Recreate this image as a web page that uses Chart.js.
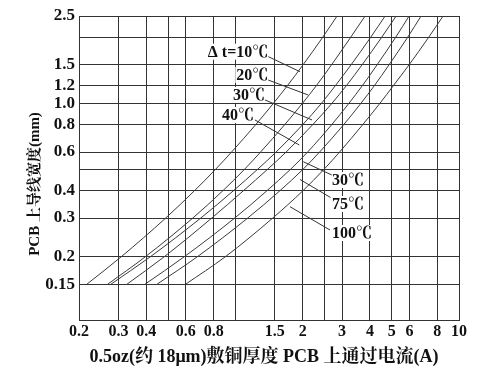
<!DOCTYPE html>
<html><head><meta charset="utf-8">
<script src="https://cdn.jsdelivr.net/npm/chart.js@4/dist/chart.umd.min.js"></script>
<style>html,body{margin:0;padding:0;background:#fff;}</style>
</head><body>
<canvas id="c" width="498" height="385" style="display:block;width:498px;height:385px"></canvas>
<script>
// ---- data (trace width in mm on y, current in A on x) ----
const widths = [0.15, 0.2, 0.3, 0.4, 0.5, 0.6, 0.8, 1.0, 1.2, 1.5, 2.0, 2.5];
const current_dt10  = [0.217, 0.309, 0.488, 0.657, 0.815, 0.962, 1.234, 1.480, 1.705, 2.010, 2.458, 2.851];
const current_dt20  = [0.269, 0.396, 0.645, 0.880, 1.098, 1.297, 1.663, 1.995, 2.297, 2.695, 3.279, 3.804];
const current_dt30  = [0.278, 0.417, 0.700, 0.981, 1.256, 1.522, 2.002, 2.427, 2.794, 3.295, 4.029, 4.674];
const current_dt40  = [0.328, 0.481, 0.784, 1.087, 1.392, 1.687, 2.219, 2.703, 3.129, 3.690, 4.512, 5.235];
const current_dt30b = [0.395, 0.591, 0.993, 1.385, 1.763, 2.105, 2.698, 3.220, 3.689, 4.306, 5.211, 5.983];
const current_dt75  = [0.447, 0.676, 1.135, 1.583, 2.005, 2.381, 3.052, 3.643, 4.174, 4.871, 5.895, 6.769];
const current_dt100 = [0.600, 0.902, 1.469, 2.006, 2.489, 2.926, 3.712, 4.431, 5.076, 5.986, 7.320, 8.491];
const seriesNames = ['Δ t=10℃', '20℃', '30℃', '40℃', '30℃', '75℃', '100℃'];
const seriesCurrents = [current_dt10, current_dt20, current_dt30, current_dt40, current_dt30b, current_dt75, current_dt100];

const xTickValues = [0.2, 0.3, 0.4, 0.5, 0.6, 0.8, 1, 1.5, 2, 2.5, 3, 4, 5, 6, 8, 10];
const xTickLabels = ['0.2', '0.3', '0.4', '', '0.6', '0.8', '', '1.5', '2', '', '3', '4', '5', '6', '8', '10'];
const yTickValues = [0.15, 0.2, 0.3, 0.4, 0.5, 0.6, 0.8, 1.0, 1.2, 1.5, 2.0, 2.5];
const yTickLabels = ['0.15', '0.2', '0.3', '0.4', '', '0.6', '0.8', '1.0', '1.2', '1.5', '', '2.5'];
const xTitle = '0.5oz(约 18μm)敷铜厚度 PCB 上通过电流(A)';
const yTitle = 'PCB 上导线宽度(mm)';

// curve labels: text anchor and leader line, in data units (current, width)
const labelAnchor = [[1.404, 1.719], [1.404, 1.346], [1.357, 1.092], [1.212, 0.885], [2.706, 0.4475], [2.706, 0.348], [2.706, 0.2566]];
const leaderFrom  = [[1.404, 1.632], [1.404, 1.277], [1.357, 1.036], [1.224, 0.840], [2.698, 0.4716], [2.664, 0.3724], [2.650, 0.2648]];
const leaderTo    = [[1.946, 1.394], [2.113, 1.092], [2.202, 0.840], [1.932, 0.646], [2.013, 0.542], [1.946, 0.4498], [1.756, 0.338]];

// ---- styling ----
const SERIF = "'Liberation Serif', 'Noto Serif CJK SC', 'Noto Sans CJK SC', serif";
const GRID = '#333';
const labelAlign = ['right', 'right', 'right', 'right', 'left', 'left', 'left'];

const datasets = seriesCurrents.map((cur, i) => ({
  label: seriesNames[i],
  data: cur.map((c, j) => ({x: c, y: widths[j]})),
  borderColor: '#3a3a3a',
  borderWidth: 1,
  pointRadius: 0,
  fill: false,
  cubicInterpolationMode: 'monotone'
}));

const annot = {
  id: 'annot',
  afterDatasetsDraw(chart) {
    const {ctx, chartArea: a} = chart;
    const xs = chart.scales.x, ys = chart.scales.y;
    ctx.save();
    ctx.font = 'bold 16px ' + SERIF;
    ctx.textBaseline = 'middle';
    for (let i = 0; i < seriesNames.length; i++) {
      const px = xs.getPixelForValue(labelAnchor[i][0]);
      const py = ys.getPixelForValue(labelAnchor[i][1]);
      const w = ctx.measureText(seriesNames[i]).width;
      const left = labelAlign[i] === 'right' ? px - w : px;
      ctx.fillStyle = '#fff';
      ctx.fillRect(left - 1, py - 8, w + 2, 16);
      ctx.fillStyle = '#111';
      ctx.textAlign = labelAlign[i];
      ctx.fillText(seriesNames[i], px, py + 1);
    }
    ctx.strokeStyle = '#333';
    ctx.lineWidth = 1;
    for (let i = 0; i < leaderFrom.length; i++) {
      ctx.beginPath();
      ctx.moveTo(xs.getPixelForValue(leaderFrom[i][0]), ys.getPixelForValue(leaderFrom[i][1]));
      ctx.lineTo(xs.getPixelForValue(leaderTo[i][0]), ys.getPixelForValue(leaderTo[i][1]));
      ctx.stroke();
    }
    // axis titles
    ctx.fillStyle = '#111';
    ctx.font = 'bold 18px ' + SERIF;
    ctx.textAlign = 'center';
    ctx.textBaseline = 'middle';
    ctx.fillText(xTitle, (a.left + a.right) / 2 - 5, a.bottom + 37);
    ctx.save();
    ctx.translate(35, (a.top + a.bottom) / 2 + 16);
    ctx.rotate(-Math.PI / 2);
    ctx.font = 'bold 15px ' + SERIF;
    ctx.fillText(yTitle, 0, 0);
    ctx.restore();
    ctx.restore();
  }
};

new Chart(document.getElementById('c'), {
  type: 'line',
  data: {datasets},
  options: {
    responsive: false,
    animation: false,
    devicePixelRatio: 1,
    layout: {padding: {left: 0, right: 39, top: 16, bottom: 0}},
    plugins: {legend: {display: false}, tooltip: {enabled: false}},
    scales: {
      x: {
        type: 'logarithmic', min: 0.2, max: 10, bounds: 'data',
        afterBuildTicks: s => { s.ticks = xTickValues.map(v => ({value: v})); },
        afterFit: s => { s.height = 65; },
        ticks: {autoSkip: false, maxRotation: 0, minRotation: 0, padding: 2, color: '#111',
          font: {family: SERIF, size: 16, weight: 'bold'},
          callback: (v, i) => xTickLabels[i]},
        grid: {color: GRID, lineWidth: 1, drawTicks: false},
        border: {color: GRID, width: 1}
      },
      y: {
        type: 'logarithmic', min: 0.103, max: 2.5, bounds: 'data',
        afterBuildTicks: s => { s.ticks = yTickValues.map(v => ({value: v})); },
        afterFit: s => { s.width = 79; },
        ticks: {autoSkip: false, padding: 4, color: '#111',
          font: {family: SERIF, size: 17, weight: 'bold'},
          callback: (v, i) => yTickLabels[i]},
        grid: {color: GRID, lineWidth: 1, drawTicks: false},
        border: {color: GRID, width: 1}
      }
    }
  },
  plugins: [annot]
});
</script>
</body></html>
